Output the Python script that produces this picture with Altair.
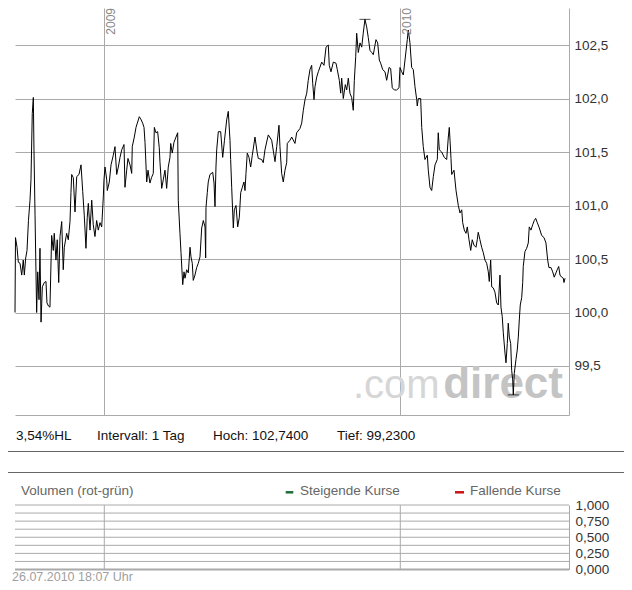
import altair as alt
import pandas as pd

# ---------------- data ----------------
# calendar days after 2009-01-01 (negative = late 2008) and price
days = [
    -110.1, -109.5, -107.6, -106.0, -103.9, -101.8, -99.9, -98.6, -96.9, -95.3,
    -93.5, -91.6, -90.4, -88.8, -87.5, -86.7, -85.4, -83.4, -82.1, -80.5,
    -79.3, -78.0, -76.4, -74.0, -71.9, -70.7, -68.8, -67.0, -64.9, -62.9,
    -61.7, -59.6, -58.0, -56.2, -54.6, -52.5, -50.6, -49.3, -46.4, -44.4,
    -42.3, -41.1, -40.2, -38.2, -36.1, -34.0, -31.2, -28.7, -26.6, -24.7,
    -22.6, -21.0, -19.7, -17.6, -15.5, -13.6, -11.5, -9.4, -7.4, -5.3,
    -3.2, -1.2, -0.4, 0.9, 3.0, 3.7, 6.2, 8.3, 11.1, 13.2,
    15.3, 17.3, 19.4, 21.5, 24.3, 25.5, 27.6, 29.2, 31.7, 33.8,
    34.5, 37.0, 39.1, 40.7, 43.2, 44.9, 47.3, 49.0, 50.2, 52.3,
    53.9, 56.3, 58.2, 60.4, 61.7, 63.7, 65.8, 67.8, 68.7, 70.8,
    72.7, 74.8, 76.9, 78.9, 81.0, 81.9, 83.8, 85.9, 88.4, 90.5,
    91.2, 93.3, 94.6, 96.7, 98.3, 99.5, 101.6, 103.6, 105.7, 106.9,
    108.5, 109.7, 111.8, 113.9, 115.9, 118.0, 120.1, 122.1, 124.2, 125.0,
    125.4, 127.0, 128.2, 130.3, 133.7, 135.3, 136.5, 137.7, 138.6, 140.6,
    143.5, 146.0, 148.2, 150.9, 152.9, 155.0, 155.8, 157.1, 159.1, 160.3,
    162.4, 164.5, 166.5, 168.2, 170.2, 172.2, 173.5, 174.7, 176.3, 178.4,
    180.5, 182.5, 185.8, 188.6, 189.9, 194.1, 196.0, 198.1, 202.2, 206.4,
    210.5, 212.6, 215.4, 216.6, 218.7, 220.7, 222.8, 224.9, 225.6, 229.0,
    231.1, 235.1, 237.2, 241.3, 243.4, 245.4, 247.5, 249.6, 251.5, 253.6,
    255.7, 257.0, 258.6, 259.8, 261.9, 263.9, 268.1, 270.9, 273.4, 276.2,
    277.4, 279.5, 282.4, 285.7, 287.3, 289.8, 291.5, 292.7, 294.7, 297.2,
    298.9, 300.9, 302.9, 305.0, 307.0, 308.3, 310.0, 311.2, 313.2, 315.3,
    317.4, 319.3, 321.4, 323.5, 325.5, 327.6, 329.7, 331.7, 335.0, 337.1,
    339.1, 340.8, 343.3, 346.1, 348.2, 351.1, 353.1, 355.1, 357.6, 360.5,
    363.4, 364.6, 366.7, 368.7, 370.8, 373.6, 374.8, 376.9, 379.0, 381.0,
    383.1, 385.2, 385.9, 387.2, 390.1, 391.4, 393.3, 395.4, 398.3, 399.5,
    401.6, 403.7, 405.7, 407.8, 410.6, 411.8, 413.1, 416.0, 419.2, 422.2,
    424.2, 425.4, 426.3, 427.5, 428.4, 431.2, 433.7, 436.5, 438.6, 440.7,
    441.9, 443.9, 446.0, 447.6, 449.7, 451.8, 453.7, 455.8, 458.3, 459.9,
    461.1, 463.2, 465.3, 467.3, 469.4, 471.5, 473.5, 474.7, 476.4, 477.7,
    479.6, 481.7, 483.8, 485.8, 487.9, 489.1, 490.7, 492.0, 494.1, 495.3,
    496.9, 498.1, 499.4, 501.1, 502.3, 503.6, 504.3, 505.5, 507.6, 509.2,
    510.5, 511.7, 512.9, 514.7, 515.9, 516.6, 518.7, 520.8, 522.8, 524.0,
    526.1, 528.2, 530.2, 531.9, 533.9, 536.4, 539.3, 542.2, 544.6, 546.7,
    548.3, 550.8, 552.9, 554.8, 556.9, 558.5, 560.3, 561.9, 564.0, 566.0,
    566.8, 568.1,
]
kurs = [
    100.00, 100.70, 100.61, 100.47, 100.46, 100.35, 100.49, 100.35, 100.51, 100.58,
    100.86, 101.05, 101.24, 101.86, 102.01, 101.52, 100.91, 100.00, 100.38, 100.12,
    100.60, 99.91, 100.24, 100.28, 100.29, 100.09, 100.06, 100.05, 100.72, 100.58,
    100.74, 100.49, 100.68, 100.28, 100.71, 100.85, 100.40, 100.61, 100.74, 100.68,
    100.85, 101.12, 101.29, 101.26, 100.94, 101.27, 101.29, 101.38, 101.13, 100.91,
    100.60, 100.89, 101.02, 100.77, 101.05, 100.82, 100.71, 100.86, 100.77, 100.84,
    100.80, 101.08, 101.24, 101.36, 101.24, 101.14, 101.22, 101.38, 101.47, 101.55,
    101.29, 101.36, 101.45, 101.52, 101.57, 101.17, 101.33, 101.44, 101.38, 101.30,
    101.55, 101.64, 101.73, 101.77, 101.83, 101.81, 101.77, 101.73, 101.59, 101.22,
    101.33, 101.21, 101.26, 101.30, 101.73, 101.68, 101.69, 101.54, 101.40, 101.16,
    101.24, 101.33, 101.16, 101.36, 101.45, 101.58, 101.49, 101.59, 101.64, 101.68,
    101.05, 100.74, 100.56, 100.26, 100.38, 100.32, 100.40, 100.37, 100.61, 100.52,
    100.46, 100.30, 100.35, 100.42, 100.46, 100.52, 100.79, 100.86, 100.80, 100.51,
    100.98, 101.12, 101.22, 101.29, 101.31, 101.21, 100.99, 101.36, 101.52, 101.69,
    101.69, 101.45, 101.61, 101.80, 101.88, 101.61, 101.43, 101.17, 100.79, 100.96,
    101.00, 100.80, 100.89, 101.12, 101.17, 101.22, 101.14, 101.30, 101.49, 101.45,
    101.36, 101.47, 101.64, 101.49, 101.44, 101.43, 101.40, 101.52, 101.66, 101.61,
    101.41, 101.55, 101.75, 101.55, 101.30, 101.22, 101.33, 101.40, 101.58, 101.61,
    101.64, 101.58, 101.68, 101.72, 101.77, 101.89, 101.99, 102.05, 102.17, 102.27,
    102.31, 102.14, 101.99, 102.11, 102.20, 102.25, 102.34, 102.31, 102.48, 102.50,
    102.31, 102.25, 102.34, 102.33, 102.27, 102.17, 102.05, 102.19, 102.00, 102.13,
    102.08, 102.19, 102.05, 102.01, 101.89, 102.17, 102.39, 102.61, 102.43, 102.52,
    102.48, 102.61, 102.74, 102.67, 102.57, 102.45, 102.43, 102.41, 102.55, 102.52,
    102.36, 102.33, 102.27, 102.25, 102.17, 102.29, 102.28, 102.10, 102.08, 102.08,
    102.10, 102.29, 102.25, 102.22, 102.36, 102.55, 102.64, 102.52, 102.29, 102.27,
    102.11, 101.99, 101.93, 102.00, 102.00, 101.73, 101.55, 101.43, 101.47, 101.33,
    101.17, 101.14, 101.27, 101.38, 101.43, 101.68, 101.52, 101.50, 101.45, 101.43,
    101.64, 101.73, 101.61, 101.44, 101.29, 101.33, 101.14, 101.00, 100.93, 100.96,
    100.84, 100.77, 100.74, 100.80, 100.68, 100.58, 100.68, 100.63, 100.61, 100.68,
    100.75, 100.68, 100.61, 100.56, 100.49, 100.46, 100.38, 100.29, 100.49, 100.24,
    100.23, 100.19, 100.09, 100.07, 100.35, 100.05, 99.96, 99.81, 99.62, 99.53,
    99.71, 99.90, 99.77, 99.71, 99.46, 99.37, 99.23, 99.43, 99.56, 99.65,
    99.77, 99.93, 100.07, 100.14, 100.28, 100.43, 100.57, 100.60, 100.65, 100.80,
    100.77, 100.82, 100.86, 100.88, 100.84, 100.79, 100.72, 100.70, 100.65, 100.49,
    100.42, 100.42, 100.38, 100.33, 100.37, 100.40, 100.43, 100.35, 100.33, 100.32,
    100.28, 100.32,
]
assert len(days) == len(kurs)

year_starts = [2009, 2010]
price_ticks = [99.5, 100.0, 100.5, 101.0, 101.5, 102.0, 102.5]
price_domain = [99.042, 102.846]
x_domain_days = [-110.1, 573.0]
vol_domain = [0, 1]
vol_ticks = [0.0, 0.25, 0.5, 0.75, 1.0]
vol_grid = [0.0, 0.125, 0.25, 0.375, 0.5, 0.625, 0.75, 0.875, 1.0]
info_texts = ["3,54%HL", "Intervall: 1 Tag", "Hoch: 102,7400", "Tief: 99,2300"]
vol_title = "Volumen (rot-grün)"
legend_labels = ["Steigende Kurse", "Fallende Kurse"]
legend_colors = ["#1e6b3c", "#cc1111"]
stamp_text = "26.07.2010 18:07 Uhr"
watermark_parts = [".com", "direct"]

# ---------------- helpers ----------------
FONT = "Liberation Sans"
GRID = "#aaaaaa"
FRAME = "#666666"
base = pd.Timestamp("2009-01-01")


def iso(d):
    return (base + pd.to_timedelta(d, unit="D")).strftime("%Y-%m-%dT%H:%M:%S")


def dt(d):
    t = base + pd.to_timedelta(d, unit="D")
    return alt.DateTime(year=t.year, month=t.month, date=t.day,
                        hours=t.hour, minutes=t.minute)


df = pd.DataFrame({"date": [iso(d) for d in days], "kurs": kurs})
years_df = pd.DataFrame({
    "date": [f"{y}-01-01T00:00:00" for y in year_starts],
    "label": [str(y) for y in year_starts],
    "top": [vol_domain[1]] * len(year_starts),
    "bottom": [vol_domain[0]] * len(year_starts),
})
year_dt = [alt.DateTime(year=y, month=1, date=1) for y in year_starts]
hl_df = df.loc[[df["kurs"].idxmax(), df["kurs"].idxmin()]]

x_scale = alt.Scale(domain=[dt(x_domain_days[0]), dt(x_domain_days[1])], nice=False)
x_axis = alt.Axis(values=year_dt, grid=True, gridColor=GRID, labels=False,
                  ticks=False, domainColor=GRID, title=None)
price_scale = alt.Scale(domain=price_domain, nice=False, zero=False)
# volume panel sits below the price panel: its own y range in pixels
vol_scale = alt.Scale(domain=vol_domain, range=[561.5, 497], nice=False, zero=False)


def X():
    return alt.X("date:T", scale=x_scale, axis=x_axis)


def one(text=""):
    return pd.DataFrame({"t": [text]})


def text_layer(text, x, y, size=13.5, color="#111111", align="left", **kw):
    return alt.Chart(one(text)).mark_text(
        align=align, baseline="alphabetic", font=FONT, fontSize=size,
        color=color, **kw
    ).encode(x=alt.value(x), y=alt.value(y), text="t:N")


def rule(x, y, x2=None, y2=None, color=FRAME, width=1):
    enc = {"x": alt.value(x), "y": alt.value(y)}
    if x2 is not None:
        enc["x2"] = alt.value(x2)
    if y2 is not None:
        enc["y2"] = alt.value(y2)
    return alt.Chart(one()).mark_rule(color=color, strokeWidth=width).encode(**enc)


# ---------------- price panel ----------------
wm_com = text_layer(watermark_parts[0], 338, 390, size=40, color="#d6d6d6")
wm_direct = text_layer(watermark_parts[1], 548, 390, size=44, color="#c4c4c4",
                       align="right", fontWeight="bold")

line = alt.Chart(df).mark_line(color="black", strokeWidth=1).encode(
    x=X(),
    y=alt.Y("kurs:Q", scale=price_scale,
            axis=alt.Axis(orient="right", values=price_ticks, grid=True,
                          gridColor=GRID, ticks=False, domainColor=GRID,
                          labelExpr="replace(format(datum.value, '.1f'), '.', ',')",
                          labelPadding=5, labelFont=FONT, labelFontSize=13.5,
                          labelColor="#333333", title=None)),
)

hl_ticks = alt.Chart(hl_df).mark_tick(orient="horizontal", color="black",
                                      size=11, thickness=1).encode(
    x=X(),
    y=alt.Y("kurs:Q", scale=price_scale, axis=None),
)

year_text = alt.Chart(years_df).mark_text(
    angle=270, align="right", baseline="alphabetic", dy=11, dx=0,
    font=FONT, fontSize=12, color="#888888"
).encode(x=X(), y=alt.value(0), text="label:N")

# ---------------- volume panel ----------------
hgrid = alt.Chart(pd.DataFrame({"v": vol_grid})).mark_rule(color=GRID).encode(
    y=alt.Y("v:Q", scale=vol_scale,
            axis=alt.Axis(orient="right", values=vol_ticks, grid=False,
                          ticks=False, domainColor=GRID,
                          labelExpr="replace(format(datum.value, '.3f'), '.', ',')",
                          labelPadding=6, labelFont=FONT, labelFontSize=13.5,
                          labelColor="#333333", title=None)),
    strokeWidth=alt.condition("datum.v == 0", alt.value(2), alt.value(1)),
)
vrules = alt.Chart(years_df).mark_rule(color=GRID).encode(
    x=X(),
    y=alt.Y("top:Q", scale=vol_scale, axis=None),
    y2="bottom:Q",
)

# ---------------- decorations (frames, texts) ----------------
info_x = [1, 82, 198, 322]
deco = [text_layer(t, x, 431.5) for t, x in zip(info_texts, info_x)]
deco += [
    text_layer(vol_title, 6, 486.5, color="#666666"),
    rule(270.7, 484.3, x2=278.3, color=legend_colors[0], width=2.5),
    text_layer(legend_labels[0], 285, 486.5, color="#666666"),
    rule(440, 484.3, x2=449, color=legend_colors[1], width=2.5),
    text_layer(legend_labels[1], 455, 486.5, color="#666666"),
    text_layer(stamp_text, -3, 572.5, size=12.5, color="#a0a0a0"),
    rule(-7, 443.5, x2=610),
    rule(-7, 464.5, x2=610),
]

chart = alt.layer(
    wm_com, wm_direct, line, hl_ticks, year_text, hgrid, vrules, *deco
).resolve_scale(y="independent").properties(
    width=554,
    height=407,
    autosize=alt.AutoSizeParams(type="none"),
    padding={"left": 7, "top": 0, "right": 55, "bottom": 167},
    background="white",
).configure_view(stroke=None)

chart.save("out.html", embed_options={"renderer": "svg", "actions": False})
